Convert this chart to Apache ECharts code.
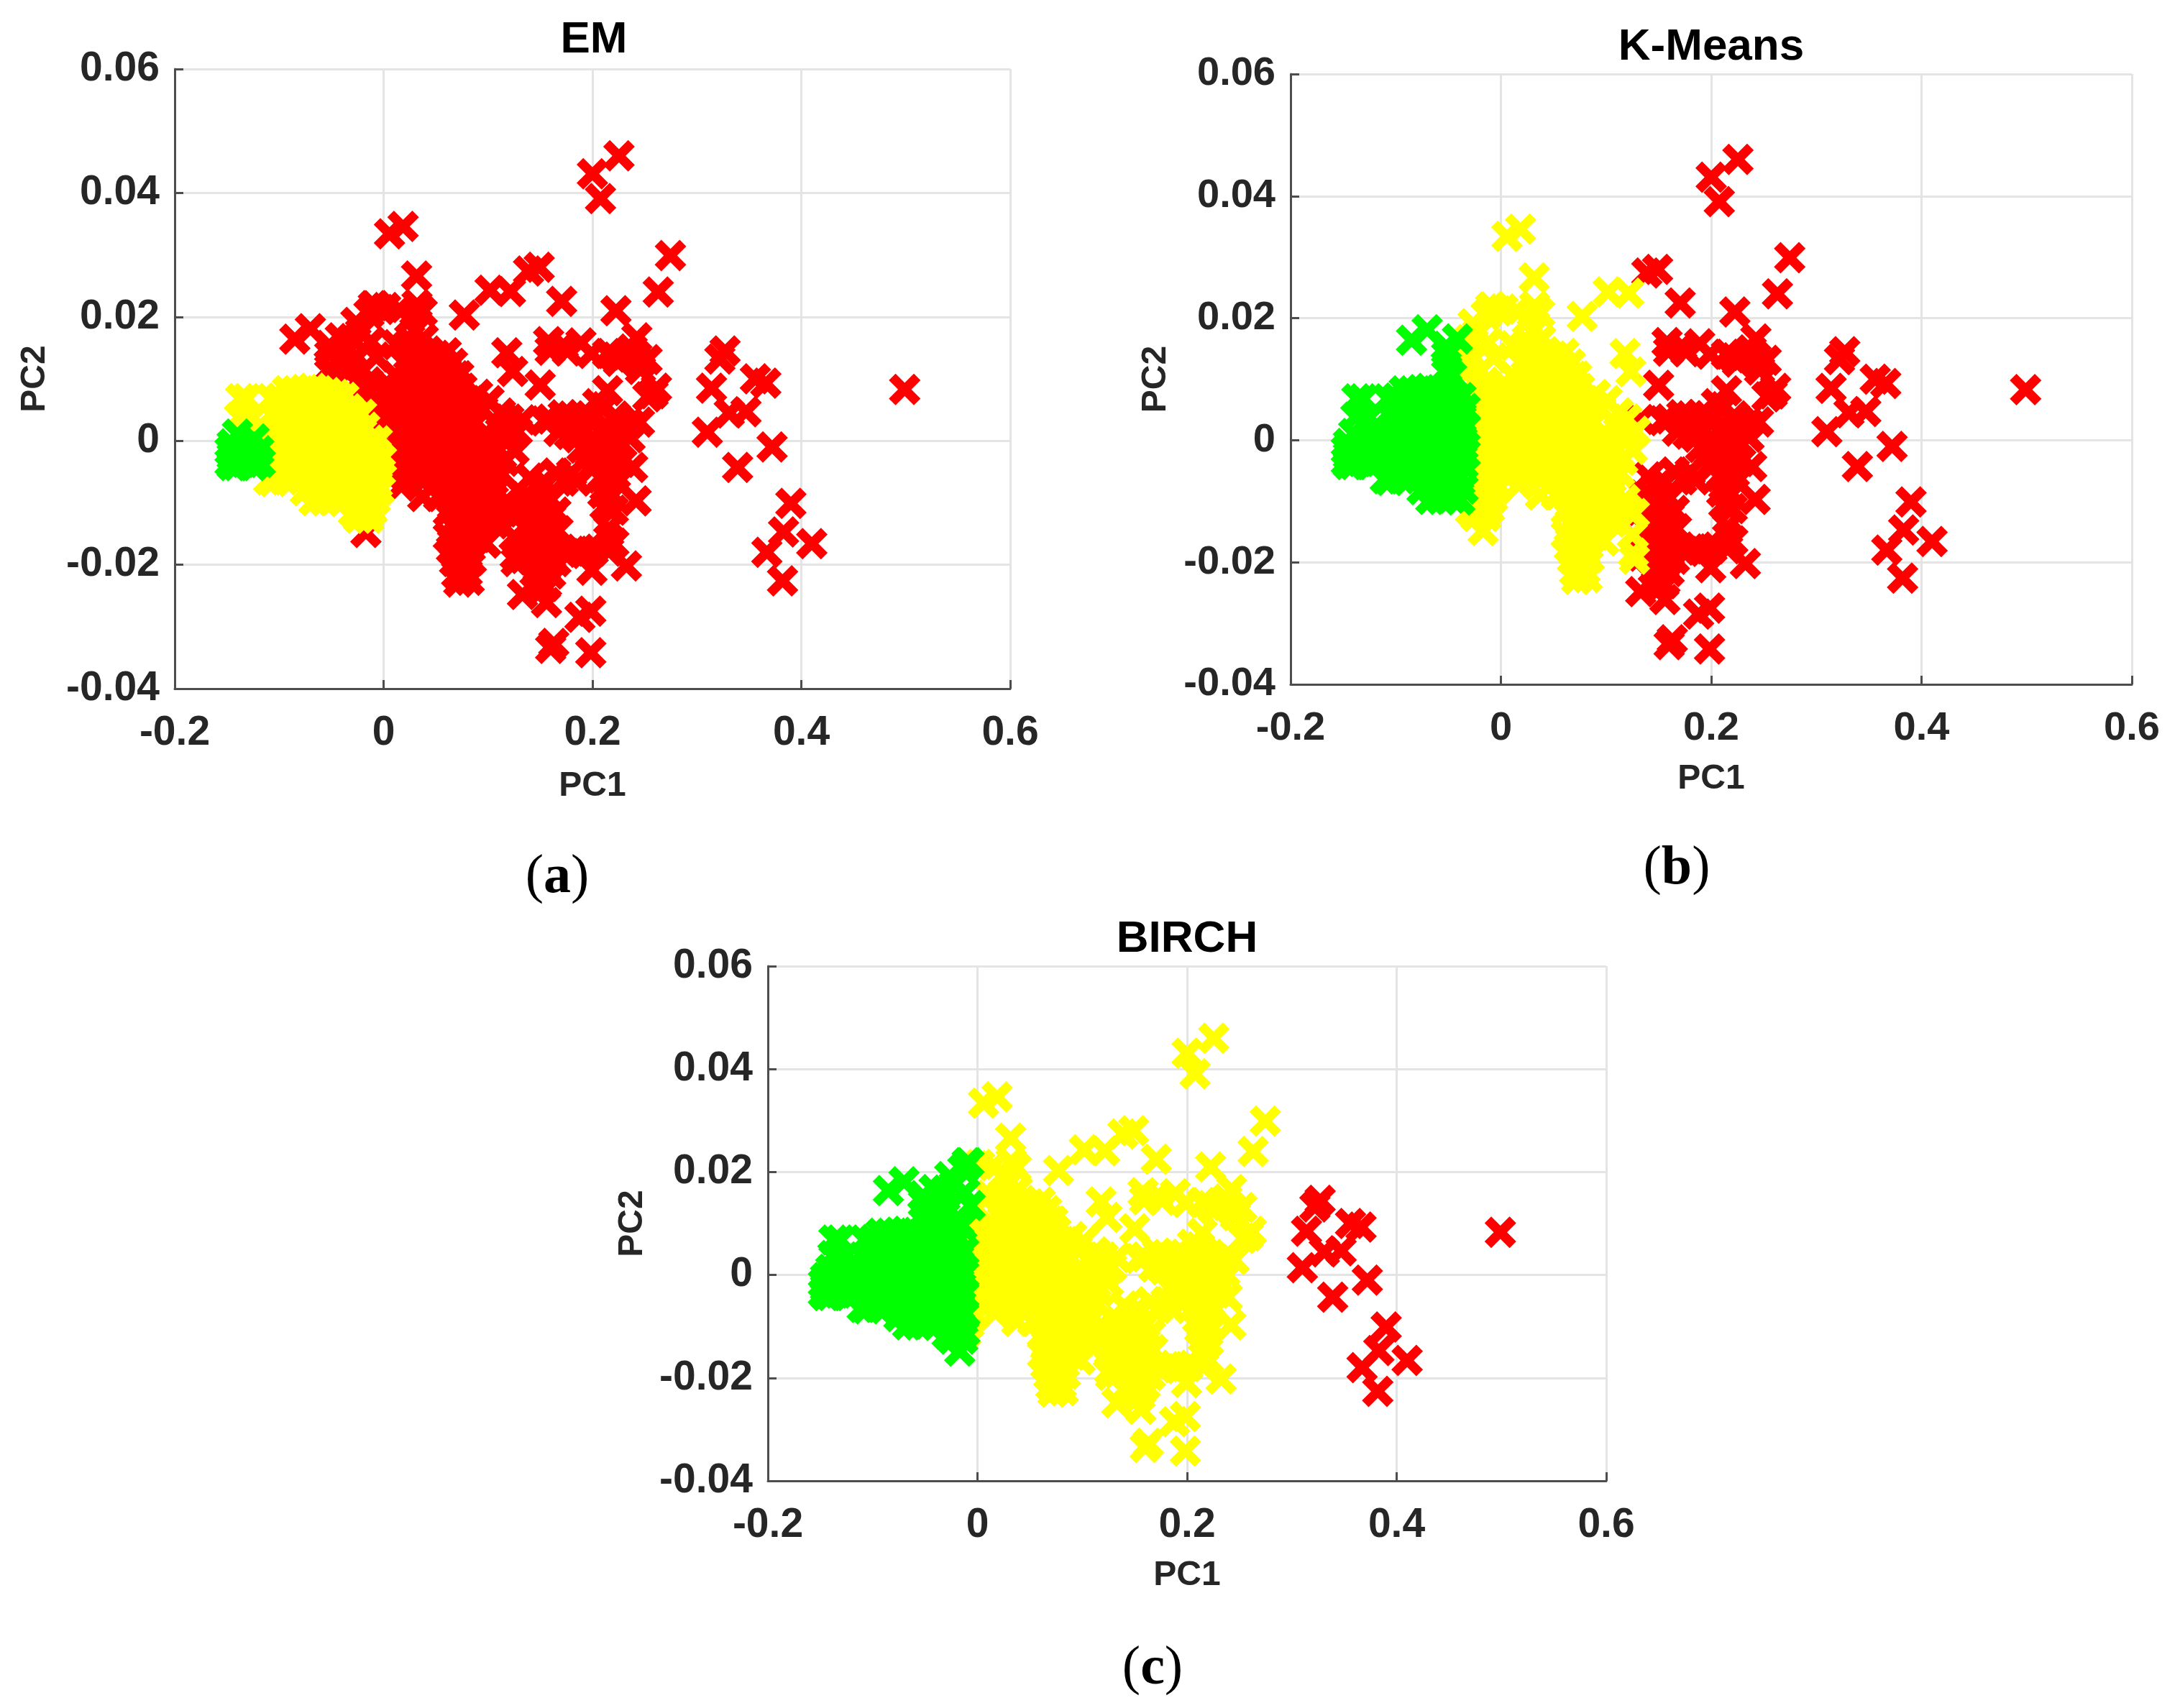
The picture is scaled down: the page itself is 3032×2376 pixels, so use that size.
<!DOCTYPE html>
<html><head><meta charset="utf-8">
<style>html,body{margin:0;padding:0;background:#fff}#c{width:3032px;height:2376px}</style>
<script src="https://cdn.jsdelivr.net/npm/echarts@6/dist/echarts.min.js"></script>
</head><body><div id="c"></div>
<script>
const pc1Ticks=[-0.2,0,0.2,0.4,0.6];
const pc2Ticks=[-0.04,-0.02,0,0.02,0.04,0.06];
const panelTitles=['EM','K-Means','BIRCH'];
const captions=['a','b','c'];

// Points are grouped by the cluster they take in each panel (EM / K-Means / BIRCH).
const farPts=[[.499,.0083],[.322,.0132],[.327,.0145],[.314,.0085],[.356,.01],[.366,.0093],[.31,.0014],[.331,.0045],[.347,.0047],[.339,-.0043],[.372,-.001],[.39,-.0101],[.383,-.0147],[.41,-.0166],[.367,-.018],[.382,-.0226]];

const rightPts=[[.2254,.046],[.2,.0431],[.2077,.0391],[.2747,.0299],[.263,.024],[.2225,.021],[.1388,.0274],[.149,.028],[.1705,.0225],[.2425,.0166],
[.158,.016],[.1595,.0146],[.172,.0154],[.176,.0145],[.189,.0158],[.199,.0141],[.2145,.0141],[.2225,.0135],[.232,.0139],[.238,.0148],[.2523,.0131],[.245,.0125],[.225,.0128],[.237,.0135],[.246,.0115],[.15,.009],[.2145,.0081],[.2613,.0085],[.253,.0071],[.258,.0076],[.133,.0034],[.154,.0032],
[.16,.0035],[.168,.0015],[.172,.0042],[.18,.004],[.19,.0042],[.197,.004],[.205,.006],[.212,.0055],[.222,.004],[.235,.0028],[.245,.003],[.178,.001],[.186,.0005],[.193,.0015],[.2,.0005],[.208,.0015],[.216,.002],[.224,.0015],[.19,-.0012],[.198,-.002],[.205,-.001],[.212,-.0005],[.22,-.001],[.228,-.0005],[.236,.0005],[.205,-.003],[.213,-.0035],[.22,-.003],[.228,-.0035],[.165,-.0052],[.172,-.0065],[.18,-.0052],[.185,-.0065],[.2,-.0045],[.208,-.006],[.215,-.0065],[.222,-.0055],[.2385,-.0043],[.2418,-.0097],[.21,-.0085],[.218,-.009],[.212,-.0105],[.22,-.0112],[.2156,-.0142],[.2156,-.0159],[.2007,-.0178],[.1995,-.0209],[.2325,-.0202],[.2156,-.0178],[.2205,-.0165],[.1984,-.0275],[.188,-.0285],[.1984,-.0342],[.163,-.0327],[.16,-.0335],
[.133,-.0248],[.156,-.0261],[.155,-.0235],[.148,-.0235],[.14,-.006],[.148,-.0075],[.156,-.007],[.135,-.009],[.143,-.0095],[.152,-.0095],[.16,-.0095],[.133,-.0115],[.141,-.012],[.149,-.0115],[.157,-.012],[.165,-.0115],[.136,-.014],[.144,-.0145],[.152,-.014],[.16,-.0145],[.167,-.0145],[.131,-.0165],[.139,-.0165],[.147,-.017],[.155,-.0165],[.163,-.0175],[.172,-.018],[.18,-.0178],[.188,-.0175],[.193,-.0182],[.134,-.019],[.142,-.0192],[.15,-.019],[.158,-.0198],[.165,-.0195],[.145,-.0212],[.152,-.0215],[.16,-.0215]];

const midPts=[[.0316,.0266],[.0057,.0334],[.0187,.0346],[.0773,.0203],[.102,.0243],[.1215,.0241],[.118,.0142],[.1236,.0112],
[.002,.0215],[.015,.0212],[.032,.022],[.037,.0208],[.025,.0195],[.03,.0178],[.038,.0165],[.012,.0155],[.022,.0152],[.033,.0148],[.042,.0145],[.05,.0138],[.06,.0142],
[.022,.0125],[.031,.0127],[.04,.0123],[.05,.0126],[.058,.0122],[.066,.0125],[.012,.0105],[.024,.0107],[.034,.0103],[.043,.0106],[.053,.0104],[.062,.0107],[.069,.0105],[.072,.0105],[.008,.0085],[.018,.0087],[.028,.0083],[.038,.0086],[.048,.0084],[.057,.0087],[.066,.0083],[.072,.0085],[.075,.0085],
[.005,.0065],[.015,.0063],[.025,.0066],[.036,.0064],[.045,.0067],[.054,.0063],[.063,.0066],[.07,.0064],[.077,.0065],[.08,.0065],[.011,.0045],[.02,.0047],[.03,.0043],[.04,.0046],[.05,.0044],[.059,.0047],[.068,.0043],[.076,.0046],
[.008,.0025],[.017,.0023],[.027,.0026],[.037,.0024],[.046,.0027],[.056,.0023],[.066,.0026],[.078,.0024],[.087,.0027],[.012,.0005],[.022,.0007],[.033,.0003],[.042,.0006],[.052,.0004],[.063,.0007],[.072,.0003],[.082,.0006],[.093,.0004],[.102,.0007],
[.009,-.0015],[.019,-.0013],[.029,-.0017],[.039,-.0014],[.049,-.0016],[.06,-.0013],[.07,-.0017],[.08,-.0014],[.09,-.0016],[.098,-.0013],[.108,-.0017],[.014,-.0035],[.024,-.0037],[.035,-.0033],[.046,-.0036],[.057,-.0034],[.067,-.0037],[.077,-.0033],[.087,-.0036],[.097,-.0034],[.106,-.0037],[.116,-.0033],
[.017,-.0073],[.02,-.0055],[.03,-.0053],[.043,-.0057],[.054,-.0054],[.064,-.0056],[.074,-.0053],[.085,-.0057],[.094,-.0054],[.104,-.0056],[.113,-.0053],[.0375,-.009],[.0527,-.009],[.062,-.0075],[.072,-.0077],[.082,-.0073],[.092,-.0076],[.102,-.0074],
[.065,-.0095],[.075,-.0097],[.085,-.0093],[.095,-.0096],[.105,-.0094],[.118,-.0097],[.062,-.0115],[.072,-.0117],[.082,-.0113],[.092,-.0116],[.1,-.0114],[.11,-.0117],[.12,-.0113],[.066,-.0135],[.076,-.0137],[.086,-.0133],[.096,-.0136],[.106,-.0134],[.062,-.0155],[.07,-.0157],[.08,-.0153],[.09,-.0156],[.098,-.0165],[.065,-.0175],[.073,-.0177],[.083,-.0173],[.068,-.0195],[.076,-.0197],[.084,-.0193],[.07,-.0215],[.08,-.0213],[.072,-.0228],[.082,-.0225],
[.09,.0075],[.095,.005],[.101,.0065],[.112,.0045],[.12,.0035],[.128,.0015],[.122,.0005],[.11,.0025],[.115,.001],[.125,-.0015],[.125,-.0155],[.126,-.0185],[.127,-.0195],[.127,-.012],
[-.006,.006],[-.009,.004],[-.004,.003],[-.008,.001],[-.002,.0085]];

const upperLeftPts=[[-.0098,.0218],[-.0265,.0191],[-.0081,.0218],[-.014,.0205],[-.03,.0165],[-.022,.0175],[-.033,.0148],[-.028,.013],[-.012,.016],[-.031,.0115],[-.007,.0135],[-.0169,-.0148],[-.028,.007],[-.018,.0068],[-.013,.0046],[-.015,.0095],[-.026,.0095]];

const upperFarLeftPts=[[-.085,.0164],[-.0701,.0181],[-.0414,.0166],[-.052,.0154],[-.0516,.0139],[-.0516,.0117],[-.047,.0105]];

const innerRightPts=[[-.03,.0045],[-.021,.0043],[-.027,.002],[-.018,.0022],[-.03,.0002],[-.02,-.0002],[-.013,.0001],[-.026,-.002],[-.016,-.0022],[-.03,-.004],[-.021,-.0042],[-.013,-.0039],[-.027,-.006],[-.017,-.0062],[-.03,-.008],[-.02,-.0082],[-.013,-.0079],[-.025,-.01],[-.016,-.0102],[-.029,-.0115],[-.02,-.0113],[-.012,-.011],[-.024,-.0125],[-.014,-.0125]];

const innerEdgePts=[[-.006,0],[-.007,-.002],[-.002,-.003],[-.008,-.004],[-.003,-.005],[-.006,-.007],[-.004,-.008],[-.008,-.0095],[-.011,-.0113]];

const innerLeftPts=[[-.137,.0068],[-.131,.0068],[-.138,.0038],[-.127,.0035],[-.1077,.0068],[-.114,.0018],[-.118,.0025],[-.112,.0005],
[-.092,.0081],[-.0838,.0081],[-.0756,.0083],[-.068,.0085],[-.062,.0081],[-.054,.0078],[-.046,.0075],[-.038,.007],
[-.0988,.0069],[-.088,.006],[-.079,.006],[-.07,.0062],[-.06,.0058],[-.051,.006],[-.042,.0055],[-.034,.0052],
[-.104,.0038],[-.095,.0042],[-.085,.0038],[-.075,.004],[-.065,.0042],[-.056,.0038],[-.047,.004],[-.038,.0035],
[-.1,.0018],[-.09,.0022],[-.08,.0018],[-.07,.002],[-.06,.0022],[-.05,.0018],[-.042,.0015],[-.034,.002],
[-.105,-.0002],[-.095,.0002],[-.085,-.0002],[-.075,.0003],[-.065,-.0001],[-.055,.0002],[-.045,-.0003],[-.037,0],
[-.1,-.0018],[-.09,-.0022],[-.08,-.0018],[-.07,-.0021],[-.06,-.0018],[-.05,-.0022],[-.04,-.0018],[-.034,-.0022],
[-.105,-.004],[-.095,-.0038],[-.085,-.0042],[-.075,-.0039],[-.065,-.0041],[-.055,-.0038],[-.045,-.0042],[-.036,-.004],
[-.1057,-.0066],[-.11,-.0063],[-.0952,-.0063],[-.09,-.006],[-.08,-.0058],[-.07,-.0062],[-.06,-.0059],[-.05,-.0061],[-.04,-.006],
[-.075,-.0081],[-.065,-.0079],[-.055,-.0082],[-.045,-.0078],[-.036,-.008],[-.0667,-.0097],[-.0564,-.0097],[-.047,-.0095],[-.039,-.0098]];

const corePts=[[-.14,.0011],[-.124,.0003],[-.145,-.0005],[-.147,-.0016],[-.145,-.0025],[-.14,-.002],[-.133,-.001],[-.126,-.002],[-.1195,-.0016],[-.147,-.0035],[-.145,-.004],[-.14,-.004],[-.133,-.0035],[-.125,-.004],[-.118,-.0035]];

// Cluster membership of each group, per panel.
const emRed=[farPts,rightPts,midPts,upperLeftPts,upperFarLeftPts];
const emYellow=[innerRightPts,innerEdgePts,innerLeftPts];
const emGreen=[corePts];
const kmRed=[farPts,rightPts];
const kmYellow=[midPts,upperLeftPts,innerRightPts,innerEdgePts];
const kmGreen=[upperFarLeftPts,innerLeftPts,corePts];
const birchRed=[farPts];
const birchYellow=[rightPts,midPts,innerEdgePts];
const birchGreen=[upperLeftPts,upperFarLeftPts,innerRightPts,innerLeftPts,corePts];

const membership=[[emRed,emYellow,emGreen],[kmRed,kmYellow,kmGreen],[birchRed,birchYellow,birchGreen]];
const clusterColors=['#ff0000','#ffff00','#00ff00'];
const grids=[{left:243,top:96,width:1162,height:862},{left:1795,top:103,width:1170,height:849},{left:1068,top:1344,width:1166,height:716}];
const titlePos=[[821,20],[2375,30],[1646,1271]];
const capPos=[[770,1178],[2327,1166],[1598,2279]];
const labelSize=[57,56,57];
const gapX=[112,108,108];
const gapY=[170,163,164];
const xMark='path://M21 0L50 29L79 0L100 21L71 50L100 79L79 100L50 71L21 100L0 79L29 50L0 21Z';

const ink='#262626';
const axisCommon=(i)=>({
  type:'value',gridIndex:i,nameLocation:'middle',
  nameTextStyle:{fontFamily:'Liberation Sans',fontWeight:'bold',fontSize:48,color:ink},
  axisLine:{show:true,onZero:false,lineStyle:{color:'#4d4d4d',width:3}},
  axisTick:{show:true,inside:true,length:12,lineStyle:{color:'#4d4d4d',width:3}},
  splitLine:{show:true,lineStyle:{color:'#e4e4e4',width:3}},
  axisLabel:{fontFamily:'Liberation Sans',fontWeight:'bold',fontSize:labelSize[i],color:ink}
});
const xAxes=[],yAxes=[],series=[],titles=[];
grids.forEach((g,i)=>{
  const xa=axisCommon(i);
  Object.assign(xa,{min:pc1Ticks[0],max:pc1Ticks[pc1Ticks.length-1],interval:0.2,name:'PC1',nameGap:gapX[i]});
  xa.axisLabel.margin=34;
  xAxes.push(xa);
  const ya=axisCommon(i);
  Object.assign(ya,{min:pc2Ticks[0],max:pc2Ticks[pc2Ticks.length-1],interval:0.02,name:'PC2',nameGap:gapY[i]});
  ya.axisLabel.margin=21;
  ya.axisLabel.padding=[10,0,0,0];
  yAxes.push(ya);
  membership[i].forEach((groups,c)=>{
    series.push({type:'scatter',xAxisIndex:i,yAxisIndex:i,data:groups.flat(),symbol:xMark,symbolSize:44,
      itemStyle:{color:clusterColors[c],opacity:1},silent:true,animation:false,clip:false,z:2+c});
  });
  titles.push({text:panelTitles[i],left:titlePos[i][0],top:titlePos[i][1],textAlign:'center',
    textStyle:{fontFamily:'Liberation Sans',fontWeight:'bold',fontSize:62,color:'#000'}});
  titles.push({text:'{p|(}{b|'+captions[i]+'}{p|)}',left:capPos[i][0],top:capPos[i][1],textAlign:'center',
    textStyle:{fontWeight:'normal',rich:{p:{fontFamily:'Liberation Serif',fontWeight:'normal',fontSize:76,color:'#000'},b:{fontFamily:'Liberation Serif',fontWeight:'bold',fontSize:76,color:'#000'}}}});
});
const chart=echarts.init(document.getElementById('c'),null,{renderer:'canvas'});
chart.setOption({backgroundColor:'#fff',animation:false,title:titles,grid:grids,xAxis:xAxes,yAxis:yAxes,series:series});
</script></body></html>
